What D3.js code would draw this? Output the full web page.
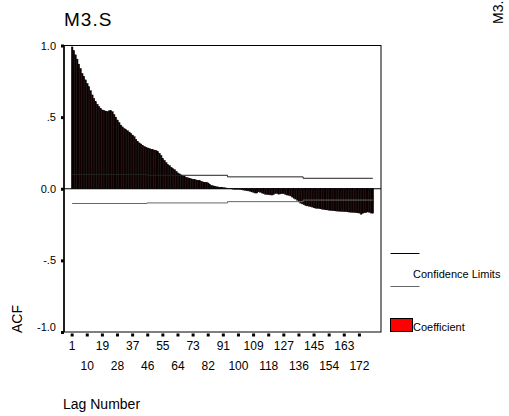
<!DOCTYPE html>
<html>
<head>
<meta charset="utf-8">
<script src="https://cdn.jsdelivr.net/npm/d3@7"></script>
<style>
  html, body { margin: 0; padding: 0; background: #fff; }
  svg { display: block; font-family: "Liberation Sans", Arial, sans-serif; }
</style>
</head>
<body>
<svg id="chart" width="509" height="416"></svg>
<script>
// ---- data ----
const chartTitle = "M3.S";
const sideLabel = "M3.S";
const acfValues = [
  0.99, 0.965, 0.935, 0.905, 0.87, 0.84, 0.805, 0.785, 0.76, 0.735,
  0.712, 0.685, 0.655, 0.63, 0.608, 0.59, 0.573, 0.56, 0.55, 0.545,
  0.542, 0.54, 0.544, 0.545, 0.538, 0.518, 0.5, 0.48, 0.462, 0.445,
  0.432, 0.42, 0.412, 0.405, 0.396, 0.387, 0.375, 0.363, 0.345, 0.33,
  0.32, 0.312, 0.302, 0.296, 0.29, 0.285, 0.281, 0.276, 0.272, 0.27,
  0.267, 0.26, 0.248, 0.232, 0.212, 0.198, 0.182, 0.168, 0.162, 0.15,
  0.14, 0.134, 0.122, 0.11, 0.104, 0.096, 0.088, 0.084, 0.08, 0.076,
  0.073, 0.069, 0.066, 0.064, 0.061, 0.059, 0.056, 0.052, 0.047, 0.044,
  0.046, 0.04, 0.03, 0.024, 0.02, 0.017, 0.014, 0.012, 0.01, 0.009,
  0.008, 0.006, 0.005, 0.003, 0.002, -0.001, -0.003, -0.004, -0.004, -0.004,
  -0.005, -0.007, -0.009, -0.012, -0.014, -0.015, -0.018, -0.022, -0.026, -0.03,
  -0.03, -0.022, -0.024, -0.03, -0.035, -0.039, -0.04, -0.042, -0.043, -0.044,
  -0.04, -0.034, -0.033, -0.038, -0.036, -0.034, -0.035, -0.04, -0.044, -0.046,
  -0.05, -0.058, -0.066, -0.072, -0.08, -0.092, -0.1, -0.106, -0.112, -0.118,
  -0.12, -0.122, -0.125, -0.128, -0.133, -0.136, -0.137, -0.138, -0.14, -0.143,
  -0.145, -0.147, -0.148, -0.15, -0.152, -0.153, -0.154, -0.155, -0.156, -0.157,
  -0.158, -0.159, -0.16, -0.16, -0.161, -0.163, -0.164, -0.165, -0.166, -0.167,
  -0.168, -0.17, -0.178, -0.172, -0.168, -0.166, -0.162, -0.165, -0.17, -0.171
];
const lags = acfValues.map((v, i) => i + 1);
// confidence limits: piecewise constant segments (first lag of each segment)
const limitStartLags = [1, 46, 94, 139];
const upperLimits = [0.100, 0.094, 0.083, 0.073];
const lowerLimits = [-0.103, -0.099, -0.090, -0.079];
const yTickValues = [-1, -0.5, 0, 0.5, 1];
const yTickLabels = ["-1.0", "-.5", "0.0", ".5", "1.0"];
const xTickLags = [1, 10, 19, 28, 37, 46, 55, 64, 73, 82, 91, 100, 109, 118, 127, 136, 145, 154, 163, 172];
const yAxisTitle = "ACF";
const xAxisTitle = "Lag Number";
const legendLimitsLabel = "Confidence Limits";
const legendCoefLabel = "Coefficient";

// ---- layout ----
const svg = d3.select("#chart");
const plot = { left: 64, right: 381, top: 45.5, bottom: 332 };

const x = d3.scaleBand()
  .domain(lags)
  .range([plot.left, plot.right])
  .paddingInner(0)
  .paddingOuter(4.35);
const y = d3.scaleLinear().domain([-1, 1]).range([plot.bottom, plot.top]);
const xc = d => x(d) + x.bandwidth() / 2;

// title
svg.append("text")
  .attr("x", 64).attr("y", 26)
  .attr("font-size", 19).attr("letter-spacing", 1)
  .text(chartTitle);

// side rotated label (runs off the top edge, as in the reference)
svg.append("text")
  .attr("transform", "translate(503,24) rotate(-90)")
  .attr("font-size", 14)
  .text(sideLabel);

// bars
svg.append("g").selectAll("rect")
  .data(acfValues)
  .join("rect")
  .attr("x", (d, i) => x(lags[i]))
  .attr("width", x.bandwidth())
  .attr("y", d => Math.min(y(d), y(0)))
  .attr("height", d => Math.abs(y(d) - y(0)))
  .attr("fill", "#120000")
  .attr("stroke", "#000")
  .attr("stroke-width", 0.4);

// confidence limit lines
const lastLag = lags[lags.length - 1];
function limitPath(values) {
  const pts = [];
  limitStartLags.forEach((s, i) => {
    const e = i + 1 < limitStartLags.length ? limitStartLags[i + 1] : lastLag;
    const x0 = i === 0 ? xc(s) : x(s);
    const x1 = i + 1 < limitStartLags.length ? x(e) : xc(e);
    pts.push([x0, y(values[i])]);
    pts.push([x1, y(values[i])]);
  });
  return d3.line()(pts);
}
svg.append("path").attr("d", limitPath(upperLimits))
  .attr("fill", "none").attr("stroke", "#222").attr("stroke-width", 1);
svg.append("path").attr("d", limitPath(lowerLimits))
  .attr("fill", "none").attr("stroke", "#666").attr("stroke-width", 1);

// zero line
svg.append("line")
  .attr("x1", plot.left).attr("x2", plot.right)
  .attr("y1", y(0)).attr("y2", y(0))
  .attr("stroke", "#000").attr("stroke-width", 1);

// frame
svg.append("rect")
  .attr("x", plot.left).attr("y", plot.top)
  .attr("width", plot.right - plot.left).attr("height", plot.bottom - plot.top)
  .attr("fill", "none").attr("stroke", "#000").attr("stroke-width", 1);
svg.append("line")
  .attr("x1", plot.left).attr("x2", plot.left)
  .attr("y1", plot.top).attr("y2", plot.bottom)
  .attr("stroke", "#000").attr("stroke-width", 1.5);

// y axis
const yAxis = d3.axisLeft(y)
  .tickValues(yTickValues)
  .tickFormat((d, i) => yTickLabels[i])
  .tickSize(0).tickPadding(8);
const gy = svg.append("g").attr("transform", `translate(${plot.left},0)`).call(yAxis);
gy.select(".domain").remove();
gy.selectAll("text").attr("font-size", 11).attr("fill", "#000")
  .attr("font-family", "Liberation Sans, Arial, sans-serif")
  .attr("dy", (d) => d === -1 ? "-0.1em" : "0.32em");
gy.selectAll(".tick").append("rect")
  .attr("x", -3).attr("y", -1.5).attr("width", 3).attr("height", 3).attr("fill", "#000");

// x axis
const xAxis = d3.axisBottom(x).tickValues(xTickLags).tickSize(0).tickPadding(0);
const gx = svg.append("g").attr("transform", `translate(0,${plot.bottom})`).call(xAxis);
gx.select(".domain").remove();
gx.selectAll("text").attr("font-size", 12).attr("fill", "#000")
  .attr("font-family", "Liberation Sans, Arial, sans-serif")
  .attr("dy", null)
  .attr("y", (d, i) => i % 2 === 0 ? 18 : 38);
gx.selectAll(".tick").append("rect")
  .attr("x", -1.5).attr("y", 1.5).attr("width", 3).attr("height", 3).attr("fill", "#000");

// axis titles
svg.append("text")
  .attr("transform", "translate(21.5,333) rotate(-90)")
  .attr("font-size", 14)
  .text(yAxisTitle);
svg.append("text")
  .attr("x", 63).attr("y", 409)
  .attr("font-size", 14)
  .text(xAxisTitle);

// legend
const lg = svg.append("g");
lg.append("line").attr("x1", 390.5).attr("x2", 419.5).attr("y1", 253.5).attr("y2", 253.5)
  .attr("stroke", "#000").attr("stroke-width", 1);
lg.append("line").attr("x1", 390.5).attr("x2", 419.5).attr("y1", 286.5).attr("y2", 286.5)
  .attr("stroke", "#666").attr("stroke-width", 1);
lg.append("text").attr("x", 413).attr("y", 278).attr("font-size", 11).text(legendLimitsLabel);
lg.append("rect").attr("x", 390.5).attr("y", 318.5).attr("width", 22).attr("height", 13)
  .attr("fill", "#ff0000").attr("stroke", "#000").attr("stroke-width", 1);
lg.append("text").attr("x", 413).attr("y", 331).attr("font-size", 11).text(legendCoefLabel);
</script>
</body>
</html>
